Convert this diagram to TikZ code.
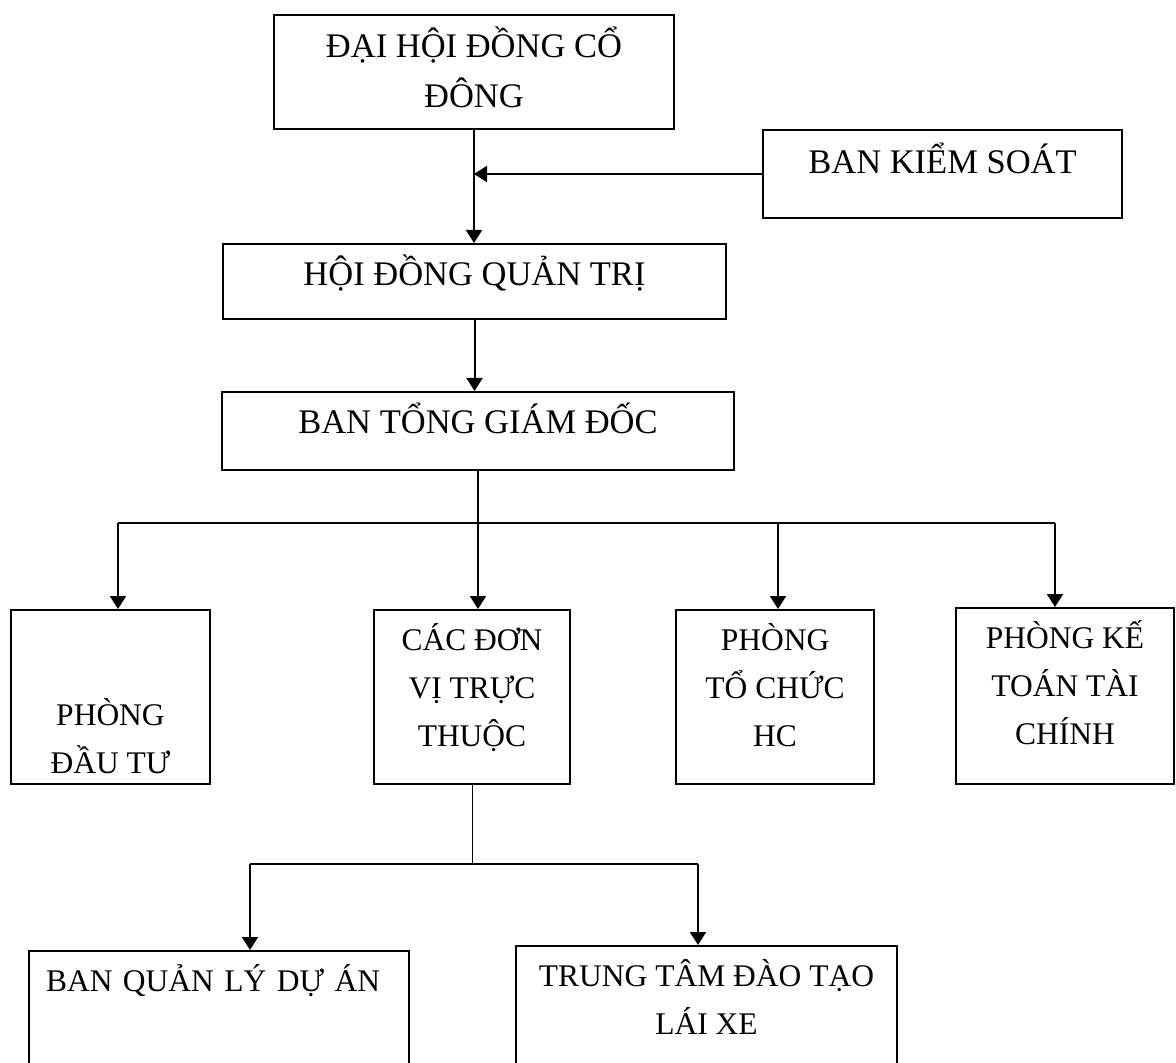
\documentclass[tikz,border=0pt]{standalone}
\usepackage{fontspec}
\setmainfont{Liberation Serif}
\usetikzlibrary{arrows.meta}

\begin{document}
\begin{tikzpicture}[x = 0.5pt, y = -0.5pt,
		box/.style = {draw, line width = 1pt, inner sep = 0pt, align = center, anchor = north west},
		big/.style = {font = \fontsize{17.25pt}{25pt}\selectfont},
		small/.style = {font = \fontsize{15.75pt}{24pt}\selectfont},
		conn/.style = {line width = 1pt},
		arr/.style = {line width = 1pt, -{Triangle[length = 6.5pt, width = 8pt]}}]
	\def\busY{523};
	\def\subY{864};

	\useasboundingbox (0,0) rectangle (1176,1063);
	\clip (0,0) rectangle (1176,1063);

	\begin{scope}[big]
		\node [box, minimum width = 200pt, text height = 46.5pt, text depth = 10.5pt] (dhdcd) at (273,14) {ĐẠI HỘI ĐỒNG CỔ\\ĐÔNG};
		\node [box, minimum width = 179.5pt, text height = 22pt, text depth = 22pt] (bks) at (762,129) {BAN KIỂM SOÁT};
		\node [box, minimum width = 251.5pt, text height = 21pt, text depth = 16.5pt] (hdqt) at (222,243) {HỘI ĐỒNG QUẢN TRỊ};
		\node [box, minimum width = 256pt, text height = 21pt, text depth = 18pt] (btgd) at (221,391) {BAN TỔNG GIÁM ĐỐC};
	\end{scope}

	\begin{scope}[small]
		\node [box, minimum width = 99.5pt, text height = 81.5pt, text depth = 5.5pt] (pdt) at (10,609) {PHÒNG\\ĐẦU TƯ};
		\node [box, minimum width = 98pt, text height = 68pt, text depth = 19pt] (cdv) at (373,609) {CÁC ĐƠN\\VỊ TRỰC\\THUỘC};
		\node [box, minimum width = 99pt, text height = 68pt, text depth = 19pt] (ptc) at (675,609) {PHÒNG\\TỔ CHỨC\\HC};
		\node [box, minimum width = 109pt, text height = 68pt, text depth = 20pt] (pkt) at (955,607) {PHÒNG KẾ\\TOÁN TÀI\\CHÍNH};
		\node [box, inner xsep = 8.5pt, text width = 173pt, align = left, text height = 20pt, text depth = 75pt] (bqlda) at (28,950) {BAN QUẢN LÝ DỰ ÁN};
		\node [box, minimum width = 190.5pt, text height = 44pt, text depth = 75pt] (ttdt) at (515,945) {TRUNG TÂM ĐÀO TẠO\\LÁI XE};
	\end{scope}

	\begin{scope}
		\coordinate (bksIn) at (dhdcd.south |- bks.west);
		\draw [arr] (dhdcd.south) -- (dhdcd.south |- hdqt.north);
		\draw [arr] (bks.west) -- (bksIn);
		\draw [arr] (hdqt.south) -- (hdqt.south |- btgd.north);
	\end{scope}

	\begin{scope}
		\coordinate (busL) at (118,\busY);
		\coordinate (busM) at (778,\busY);
		\coordinate (busR) at (1055,\busY);
		\draw [conn] (busL) -- (busR);
		\draw [arr] (btgd.south) -- (btgd.south |- cdv.north);
		\draw [arr] (busL) -- (busL |- pdt.north);
		\draw [arr] (busM) -- (busM |- ptc.north);
		\draw [arr] (busR) -- (busR |- pkt.north);
	\end{scope}

	\begin{scope}
		\coordinate (subL) at (250,\subY);
		\coordinate (subR) at (698,\subY);
		\draw [line width = 0.5pt] (cdv.south) -- (cdv.south |- subL);
		\draw [conn] (subL) -- (subR);
		\draw [arr] (subL) -- (subL |- bqlda.north);
		\draw [arr] (subR) -- (subR |- ttdt.north);
	\end{scope}
\end{tikzpicture}
\end{document}
